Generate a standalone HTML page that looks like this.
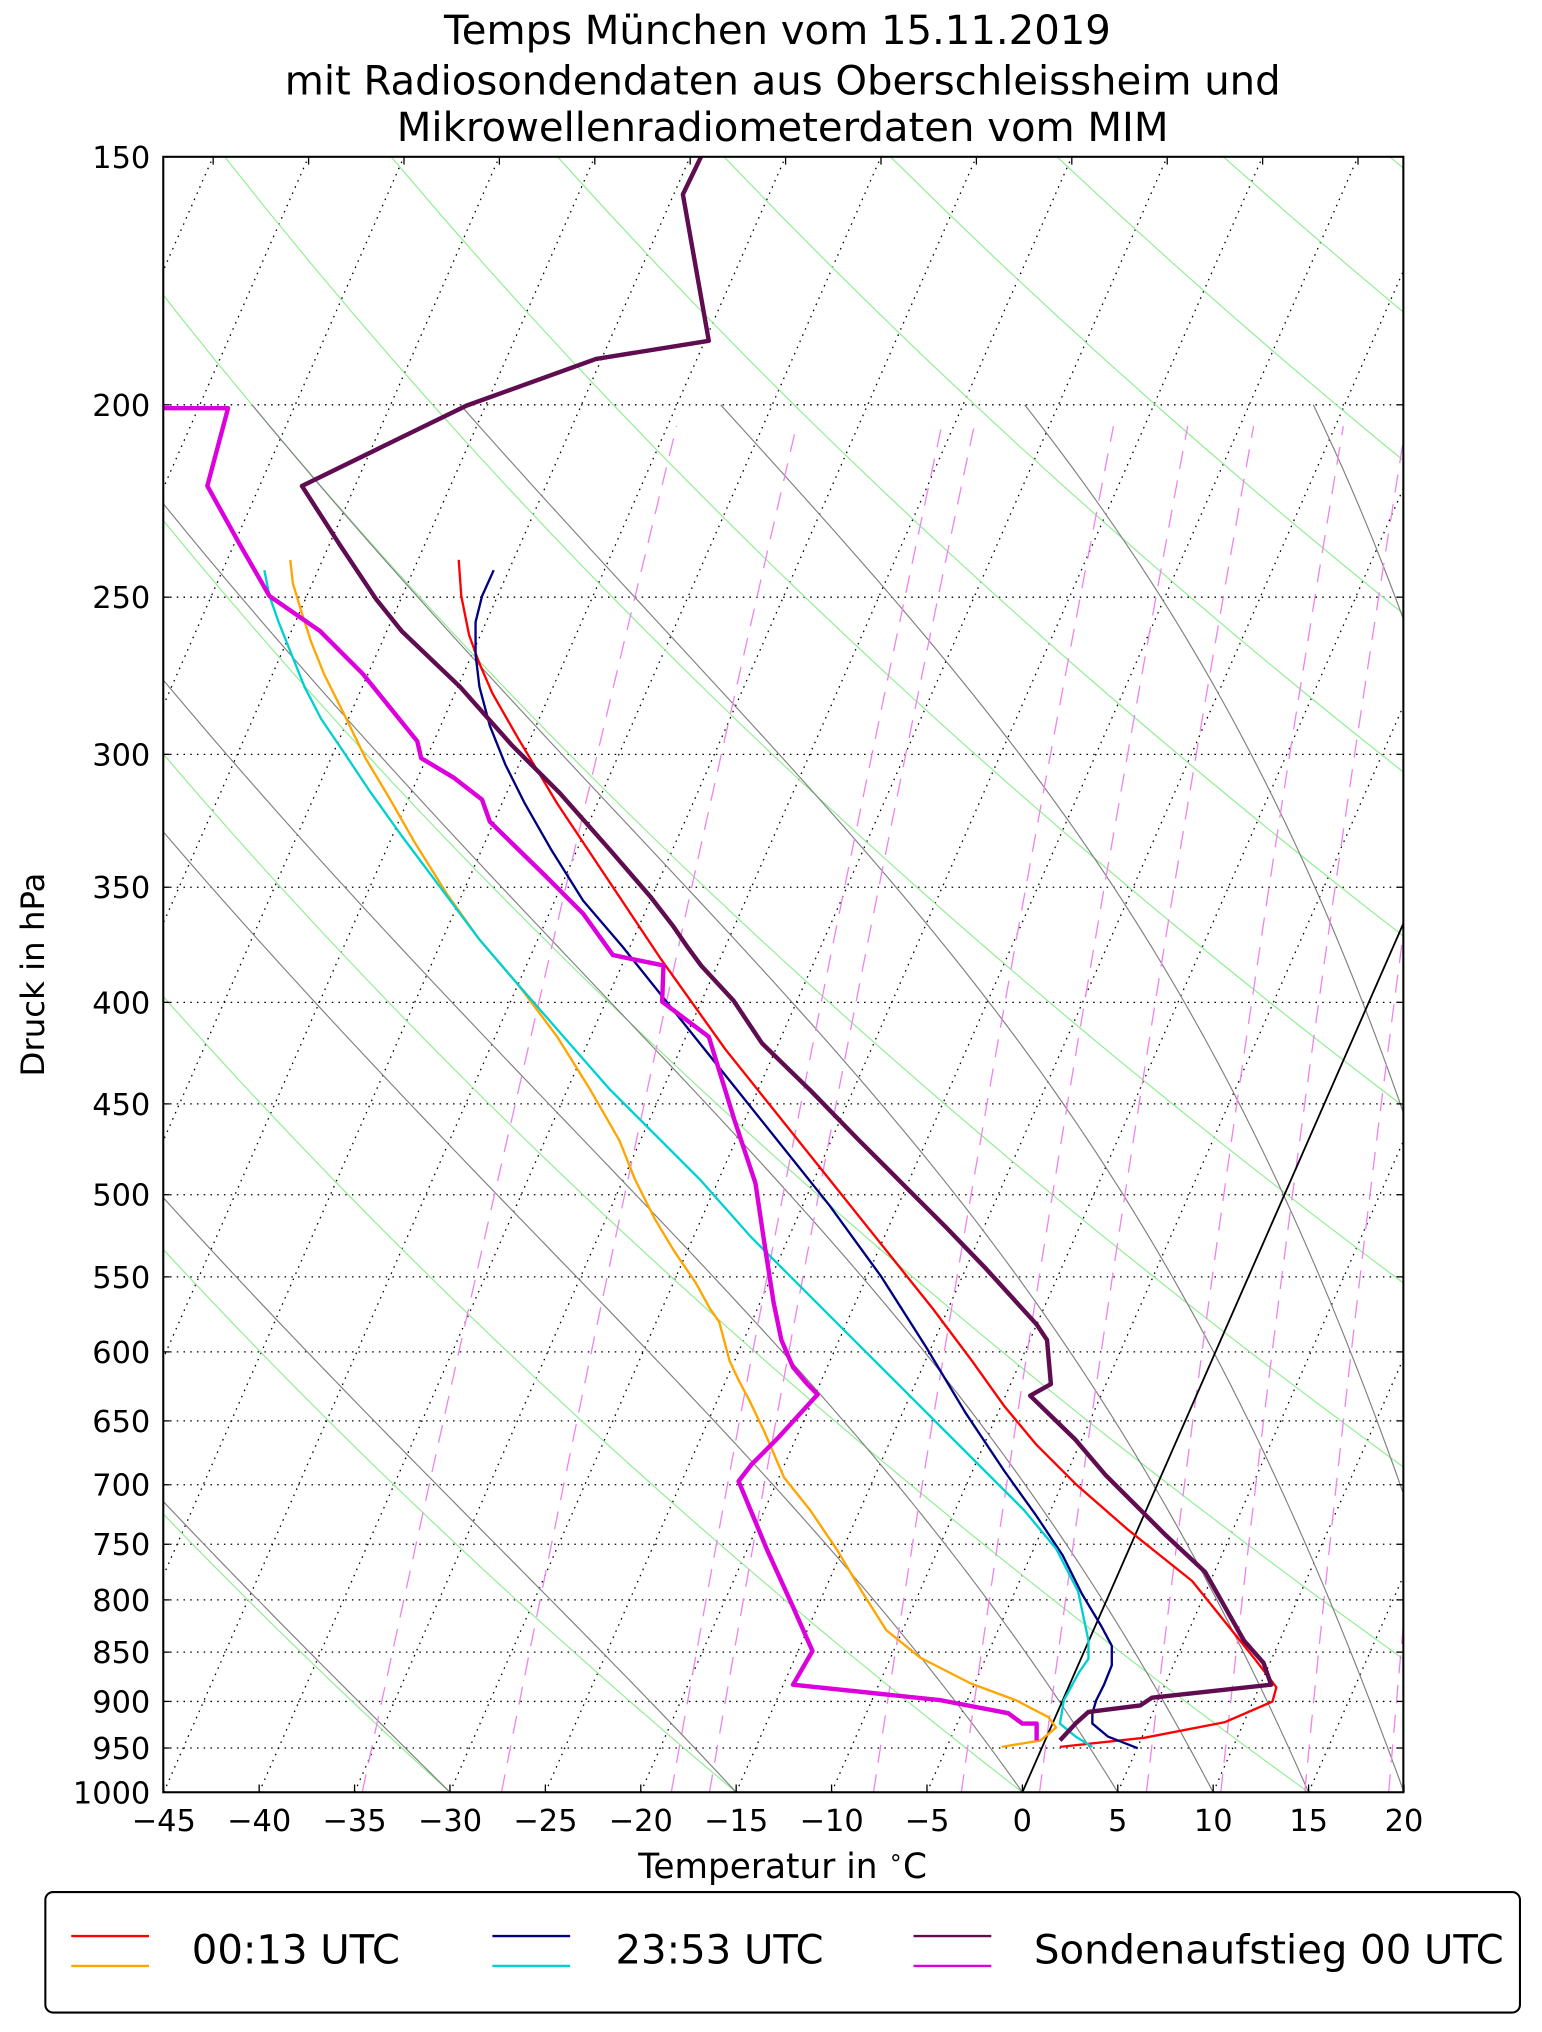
<!DOCTYPE html>
<html><head><meta charset="utf-8">
<style>
html,body{margin:0;padding:0;background:#fff;}
svg{display:block;}
text{font-family:"DejaVu Sans","Liberation Sans",sans-serif;fill:#000;}
</style></head>
<body>
<svg id="s" width="1542" height="2032" viewBox="0 0 1190 1568" preserveAspectRatio="none" xmlns="http://www.w3.org/2000/svg">
<defs><clipPath id="c"><rect x="126" y="121" width="957" height="1262"/></clipPath></defs>
<rect width="1190" height="1568" fill="#fff"/>
<g id="grid" clip-path="url(#c)"></g>
<g id="data" clip-path="url(#c)" fill="none" stroke-linejoin="round">
<polyline stroke="#ff0000" stroke-width="1.8" points="354,432 356,460 362,490 370,512 380,535 400,570 430,620 470,680 510,740 560,810 600,860 640,910 680,960 720,1010 750,1050 775,1085 800,1115 830,1145 870,1180 920,1220 957,1266 969,1281 985,1302 982,1313 945,1329 883,1341 818,1348"/>
<polyline stroke="#ffa500" stroke-width="1.8" points="224,432 226,450 232,470 240,495 250,520 265,550 282,585 300,615 320,650 345,690 370,725 400,760 430,800 455,840 478,880 490,910 505,940 520,965 537,990 548,1010 555,1020 563,1050 570,1065 578,1080 590,1105 605,1140 625,1165 646,1196 665,1228 684,1258 710,1279 749,1299 784,1312 809,1325 815,1333 803,1343 773,1348"/>
<polyline stroke="#000080" stroke-width="1.8" points="381,440 372,460 367,480 367,505 370,530 378,560 390,590 405,620 425,655 450,695 480,730 520,780 560,830 600,880 640,930 680,985 715,1040 745,1090 775,1135 800,1170 820,1200 835,1230 850,1255 858,1270 858,1285 852,1300 846,1312 843,1322 843,1330 855,1340 878,1349"/>
<polyline stroke="#00d0d0" stroke-width="1.8" points="204,440 208,460 215,480 225,505 235,530 248,555 265,580 285,610 310,645 340,685 370,725 400,760 435,800 470,840 505,875 540,910 580,955 620,995 660,1035 700,1075 730,1105 760,1135 790,1165 815,1195 832,1228 840,1266 840,1280 833,1290 821,1312 818,1330 830,1340 843,1348"/>
<polyline stroke="#dc00dc" stroke-width="3.4" points="126,315 176,315 160,375 185,420 208,460 247,487 280,520 322,572 325,585 350,600 372,617 378,634 420,675 450,705 473,737 512,745 511,773 547,800 567,865 583,913 590,960 597,1005 603,1034 612,1055 623,1068 631,1076 600,1110 580,1130 570,1143 592,1196 612,1240 627,1274 612,1300 726,1312 778,1322 789,1330 800,1330 800,1343"/>
<polyline stroke="#5f0c50" stroke-width="3.4" points="541,121 527,150 547,263 460,277 360,313 233,375 262,420 290,462 310,487 355,530 395,575 432,612 470,655 502,692 519,714 530,730 541,745 566,772 588,805 626,842 662,879 696,913 730,947 760,978 800,1022 808,1034 811,1068 795,1077 830,1111 853,1138 876,1161 900,1185 930,1213 960,1266 975,1283 981,1300 889,1310 880,1316 840,1321 830,1330 818,1343"/>
</g>
<rect x="126" y="121" width="957" height="1262" fill="none" stroke="#000" stroke-width="1.6"/>
<g id="ticks" stroke="#000" stroke-width="1"></g>
<g id="labels" font-size="23.5"></g>
<text x="600" y="34" font-size="31" text-anchor="middle">Temps München vom 15.11.2019</text>
<text x="604" y="73" font-size="31" text-anchor="middle">mit Radiosondendaten aus Oberschleissheim und</text>
<text x="604" y="109" font-size="31" text-anchor="middle">Mikrowellenradiometerdaten vom MIM</text>
<text x="604" y="1449" font-size="26.5" text-anchor="middle">Temperatur in <tspan baseline-shift="super" font-size="18">∘</tspan>C</text>
<text x="0" y="0" font-size="25" text-anchor="middle" transform="translate(34,752) rotate(-90)">Druck in hPa</text>
<rect x="35" y="1460" width="1138" height="93" rx="6" fill="#fff" stroke="#000" stroke-width="1.6"/>
<line x1="55" y1="1494" x2="115" y2="1494" stroke="#ff0000" stroke-width="1.8"/>
<line x1="55" y1="1517" x2="115" y2="1517" stroke="#ffa500" stroke-width="1.8"/>
<text x="148" y="1515" font-size="31">00:13 UTC</text>
<line x1="380" y1="1494" x2="440" y2="1494" stroke="#000080" stroke-width="1.8"/>
<line x1="380" y1="1517" x2="440" y2="1517" stroke="#00d0d0" stroke-width="1.8"/>
<text x="475" y="1515" font-size="31">23:53 UTC</text>
<line x1="705" y1="1494" x2="765" y2="1494" stroke="#5f0c50" stroke-width="1.8"/>
<line x1="705" y1="1517" x2="765" y2="1517" stroke="#dc00dc" stroke-width="1.8"/>
<text x="798" y="1515" font-size="31">Sondenaufstieg 00 UTC</text>
</svg>
<script>
(function(){
var NS="http://www.w3.org/2000/svg";
var L=Math.log(1000/150);
function Y(p){return 121+1262*Math.log(p/150)/L;}
function X(T,p){return 789+14.725*T+0.4386*(1383-Y(p));}
var g=document.getElementById('grid'),tk=document.getElementById('ticks'),lb=document.getElementById('labels');
function el(par,tag,attrs,txt){var e=document.createElementNS(NS,tag);for(var k in attrs)e.setAttribute(k,attrs[k]);if(txt!=null)e.textContent=txt;par.appendChild(e);return e;}
function path(par,pts,attrs){var d='';for(var i=0;i<pts.length;i++)d+=(i?'L':'M')+pts[i][0].toFixed(2)+','+pts[i][1].toFixed(2);attrs.d=d;attrs.fill='none';return el(par,'path',attrs);}
var i,p,T;
for(T=-130;T<=20;T+=5){path(g,[[X(T,1000),Y(1000)],[X(T,150),Y(150)]],{stroke:'#000','stroke-width':1,'stroke-dasharray':'1.2 4'});}
for(p=200;p<=950;p+=50){path(g,[[126,Y(p)],[1083,Y(p)]],{stroke:'#000','stroke-width':1,'stroke-dasharray':'1.2 4'});}
for(var n=-12;n<=14;n++){var th=273.15+15*n,pts=[];for(p=1000;p>=150;p-=10){pts.push([X(th*Math.pow(p/1000,0.2857)-273.15,p),Y(p)]);}path(g,pts,{stroke:'#90ee90','stroke-width':0.9});}
function es(Tc){return 6.112*Math.exp(17.67*Tc/(Tc+243.5));}
function dTdp(Tk,p){var e=es(Tk-273.15),rs=0.622*e/(p-e),Rd=287.04,Cp=1005.7,Lv=2.501e6;return (Rd*Tk+Lv*rs)/(p*(Cp+Lv*Lv*rs*0.622/(Rd*Tk*Tk)));}
[-30,-15,0,5,10,15,20,25,30,35].forEach(function(T0){var Tk=T0+273.15,pts=[];for(p=1000;p>=200;p-=1){if(p%5===0)pts.push([X(Tk-273.15,p),Y(p)]);var k1=dTdp(Tk,p),k2=dTdp(Tk-k1,p-1);Tk-=0.5*(k1+k2);}path(g,pts,{stroke:'#808080','stroke-width':0.9});});
[-34.6,-27.3,-18.4,-16.4,-7.8,-3.2,0.9,6.5,10.4,14.8,19.2].forEach(function(Td0){var e0=es(Td0),w=0.622*e0/(1000-e0),pts=[];for(p=1000;p>=205;p-=5){var e=w*p/(0.622+w),l=Math.log(e/6.112),Td=243.5*l/(17.67-l);pts.push([X(Td,p),Y(p)]);}path(g,pts,{stroke:'#ee82ee','stroke-width':1,'stroke-dasharray':'14 9'});});
path(g,[[X(0,1000),Y(1000)],[X(0,150),Y(150)]],{stroke:'#000','stroke-width':1.4});
var plist=[150,200,250,300,350,400,450,500,550,600,650,700,750,800,850,900,950,1000];
plist.forEach(function(p){var y=Y(p);el(tk,'line',{x1:126,y1:y,x2:131,y2:y});el(tk,'line',{x1:1078,y1:y,x2:1083,y2:y});el(lb,'text',{x:116,y:(y+8.5).toFixed(1),'text-anchor':'end'},String(p));});
for(T=-45;T<=20;T+=5){var x=X(T,1000);el(tk,'line',{x1:x,y1:1383,x2:x,y2:1377});el(lb,'text',{x:x.toFixed(1),y:1413,'text-anchor':'middle'},(T<0?'\u2212'+(-T):String(T)));}
for(T=-90;T<=20;T+=5){var xt=X(T,150);if(xt>127&&xt<1082)el(tk,'line',{x1:xt,y1:121,x2:xt,y2:127});}
})();
</script>
</body></html>
